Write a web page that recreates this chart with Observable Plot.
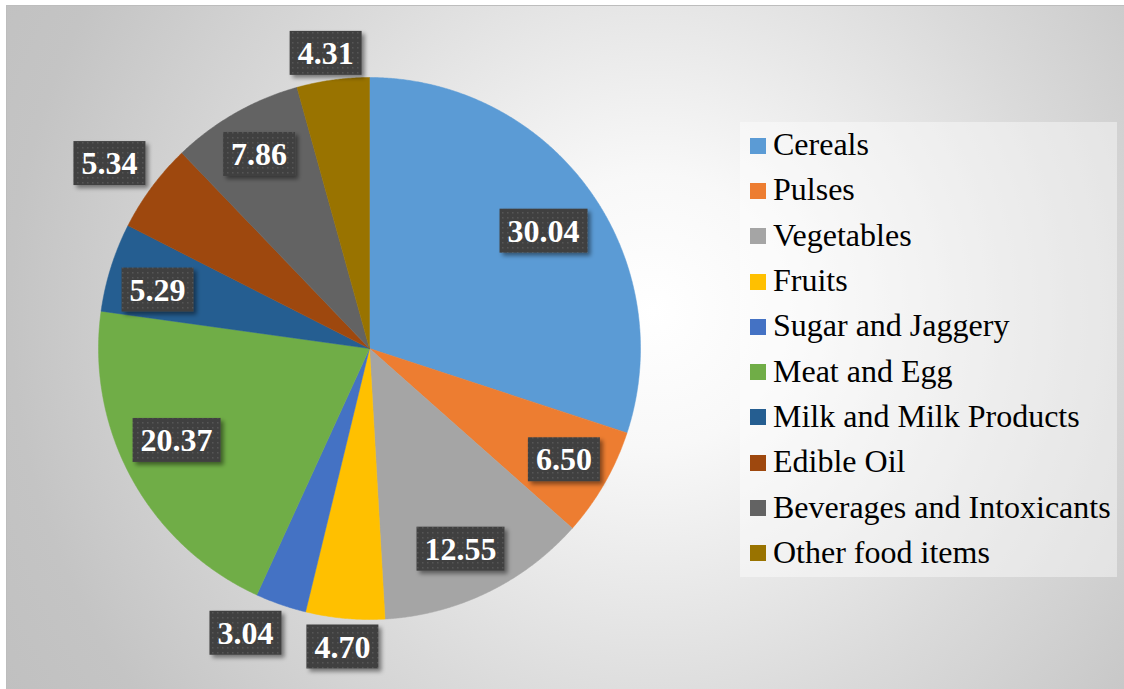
<!DOCTYPE html>
<html><head><meta charset="utf-8">
<script src="https://cdn.jsdelivr.net/npm/d3@7"></script>
<script src="https://cdn.jsdelivr.net/npm/@observablehq/plot@0.6"></script>
<style>
html,body{margin:0;padding:0;background:#fff;}
#wrap{position:relative;width:1124px;height:689px;overflow:hidden;}
#frame{position:absolute;left:6px;top:5px;width:1130px;height:700px;border:1px solid #bdbdbd;box-sizing:border-box;
  background:radial-gradient(circle farthest-corner at 646px 305px,#ffffff 0%,#f8f8f8 18%,#dadada 55%,#c4c4c4 85%,#c0c0c0 100%);}
#chart{position:absolute;left:0;top:0;}
#legend{position:absolute;left:740px;top:122px;width:377px;height:455px;background:rgba(255,255,255,0.42);
  font-family:'Liberation Serif';font-size:32px;color:#000;box-sizing:border-box;padding-left:10px;}
.item{height:45.3px;display:flex;align-items:center;white-space:nowrap;font-family:'Liberation Serif';}
.sw{width:16px;height:16px;margin-right:7px;flex:none;position:relative;top:1px;}
</style></head>
<body>
<div id="wrap"><div id="frame"></div><div id="chart"></div><div id="legend"></div></div>
<script>
const categories = ["Cereals","Pulses","Vegetables","Fruits","Sugar and Jaggery","Meat and Egg","Milk and Milk Products","Edible Oil","Beverages and Intoxicants","Other food items"];
const values = [30.04,6.50,12.55,4.70,3.04,20.37,5.29,5.34,7.86,4.31];
const labels = ["30.04","6.50","12.55","4.70","3.04","20.37","5.29","5.34","7.86","4.31"];
const colors = ["#5b9bd5","#ed7d31","#a5a5a5","#ffc000","#4472c4","#70ad47","#255e91","#9e480e","#636363","#997300"];
// label placement (layout): distance from centre as a fraction of the radius, and angular nudge in degrees
const labelRadius = [0.774,0.827,0.814,1.107,1.147,0.789,0.811,1.177,0.823,1.10];
const labelShift = [2.0,0,1.5,0,4.4,3.2,-2.1,-1.2,0,-0.7];

const W = 1124, H = 689, cx = 369, cy = 348, R = 271;
const FONT = "Liberation Serif";
const arcs = d3.pie().sort(null).value(d => d)(values);

const slicePts = [];
arcs.forEach((a, i) => {
  const n = Math.max(4, Math.ceil((a.endAngle - a.startAngle) / 0.005));
  slicePts.push({cat: categories[i], x: 0, y: 0});
  for (let k = 0; k <= n; k++) {
    const t = a.startAngle + (a.endAngle - a.startAngle) * k / n;
    slicePts.push({cat: categories[i], x: Math.sin(t), y: Math.cos(t)});
  }
  slicePts.push({cat: categories[i], x: 0, y: 0});
});
const labelPts = arcs.map((a, i) => {
  const m = (a.startAngle + a.endAngle) / 2 + labelShift[i] * Math.PI / 180;
  return {label: labels[i], x: labelRadius[i] * Math.sin(m), y: labelRadius[i] * Math.cos(m)};
});

const svg = Plot.plot({
  width: W, height: H,
  marginLeft: cx - R, marginRight: W - cx - R, marginTop: cy - R, marginBottom: H - cy - R,
  x: {domain: [-1, 1], axis: null},
  y: {domain: [-1, 1], axis: null},
  color: {domain: categories, range: colors},
  style: {background: "transparent", overflow: "visible", fontFamily: FONT},
  marks: [
    Plot.line(slicePts, {x: "x", y: "y", z: "cat", fill: "cat", stroke: "cat", strokeWidth: 0.5}),
    Plot.text(labelPts, {x: "x", y: "y", text: "label", fill: "white", fontSize: 32, fontWeight: "bold",
      fontFamily: FONT, textAnchor: "middle", lineAnchor: "middle"})
  ]
});
document.getElementById("chart").appendChild(svg);

// label boxes behind the text
const ns = "http://www.w3.org/2000/svg";
const defs = document.createElementNS(ns, "defs");
defs.innerHTML = `
<pattern id="dots" width="5" height="5" patternUnits="userSpaceOnUse">
  <rect width="5" height="5" fill="#404040"/><rect x="2" y="2" width="1.5" height="1.5" fill="#565656"/>
</pattern>
<filter id="shadow" x="-20%" y="-30%" width="150%" height="170%">
  <feDropShadow dx="3" dy="3" stdDeviation="2.2" flood-color="#000" flood-opacity="0.45"/>
</filter>`;
svg.insertBefore(defs, svg.firstChild);
const textGroup = svg.querySelector("g[aria-label='text']");
textGroup.querySelectorAll("text").forEach(t => t.style.fontFamily = FONT);
const boxG = document.createElementNS(ns, "g");
const sr = svg.getBoundingClientRect();
textGroup.querySelectorAll("text").forEach(t => {
  const b = t.getBoundingClientRect();
  const r = document.createElementNS(ns, "rect");
  const w = b.width + 16, h = 44;
  r.setAttribute("x", b.left - sr.left - 8);
  r.setAttribute("y", b.top - sr.top + b.height / 2 - h / 2);
  r.setAttribute("width", w);
  r.setAttribute("height", h);
  r.setAttribute("fill", "url(#dots)");
  r.setAttribute("filter", "url(#shadow)");
  boxG.appendChild(r);
});
textGroup.parentNode.insertBefore(boxG, textGroup);

// legend
const legend = document.getElementById("legend");
categories.forEach((c, i) => {
  const d = document.createElement("div");
  d.className = "item";
  d.innerHTML = `<span class="sw" style="background:${colors[i]}"></span><span>${c}</span>`;
  legend.appendChild(d);
});
</script>
</body></html>
